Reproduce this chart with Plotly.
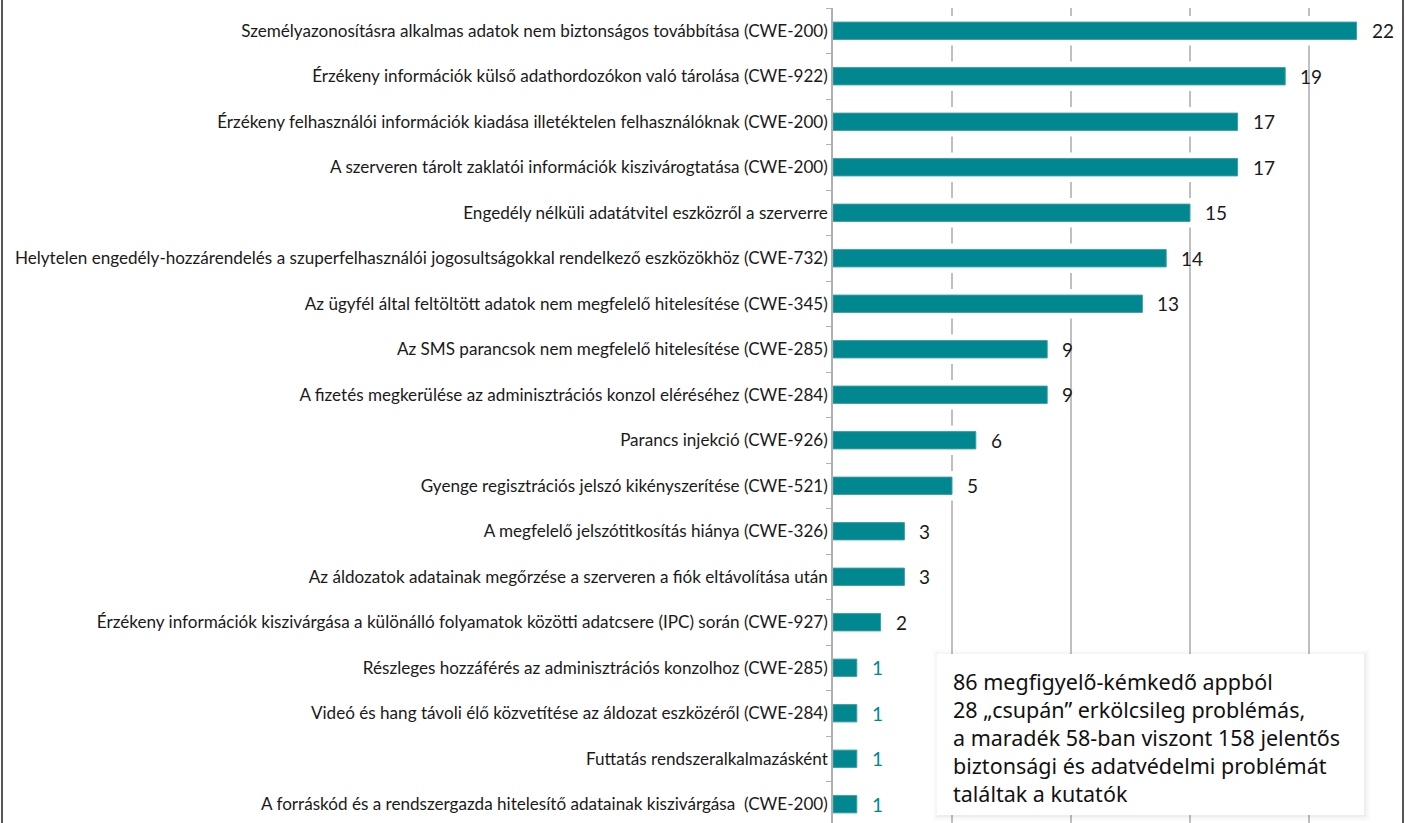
import plotly.graph_objects as go

categories = [
    "Személyazonosításra alkalmas adatok nem biztonságos továbbítása (CWE-200)",
    "Érzékeny információk külső adathordozókon való tárolása (CWE-922)",
    "Érzékeny felhasználói információk kiadása illetéktelen felhasználóknak (CWE-200)",
    "A szerveren tárolt zaklatói információk kiszivárogtatása (CWE-200)",
    "Engedély nélküli adatátvitel eszközről a szerverre",
    "Helytelen engedély-hozzárendelés a szuperfelhasználói jogosultságokkal rendelkező eszközökhöz (CWE-732)",
    "Az ügyfél által feltöltött adatok nem megfelelő hitelesítése (CWE-345)",
    "Az SMS parancsok nem megfelelő hitelesítése (CWE-285)",
    "A fizetés megkerülése az adminisztrációs konzol eléréséhez (CWE-284)",
    "Parancs injekció (CWE-926)",
    "Gyenge regisztrációs jelszó kikényszerítése (CWE-521)",
    "A megfelelő jelszótitkosítás hiánya (CWE-326)",
    "Az áldozatok adatainak megőrzése a szerveren a fiók eltávolítása után",
    "Érzékeny információk kiszivárgása a különálló folyamatok közötti adatcsere (IPC) során (CWE-927)",
    "Részleges hozzáférés az adminisztrációs konzolhoz (CWE-285)",
    "Videó és hang távoli élő közvetítése az áldozat eszközéről (CWE-284)",
    "Futtatás rendszeralkalmazásként",
    "A forráskód és a rendszergazda hitelesítő adatainak kiszivárgása  (CWE-200)",
]
values = [22, 19, 17, 17, 15, 14, 13, 9, 9, 6, 5, 3, 3, 2, 1, 1, 1, 1]
grid_ticks = [5, 10, 15, 20]
note_lines = [
    "86 megfigyelő-kémkedő appból",
    "28 „csupán” erkölcsileg problémás,",
    "a maradék 58-ban viszont 158 jelentős",
    "biztonsági és adatvédelmi problémát",
    "találtak a kutatók",
]

W, H = 1407, 823
ML, MR, MT, MB = 833, 0, 8, 0
PW = W - ML - MR
PH = H - MT - MB
PX_PER_UNIT = 23.8
CAT_PX = 45.5
HALO_PX = 6
BAR_W = 0.38

BAR = "#00878F"
TEXT = "#1a1a1a"

fig = go.Figure()
# white halo behind the bars (hides gridlines next to the bars)
fig.add_trace(go.Bar(
    x=[v + HALO_PX / PX_PER_UNIT for v in values], y=categories, orientation="h",
    width=BAR_W + 2 * HALO_PX / CAT_PX,
    marker=dict(color="white", line=dict(width=0)),
    hoverinfo="skip",
))
fig.add_trace(go.Bar(
    x=values, y=categories, orientation="h",
    width=BAR_W,
    marker=dict(color=BAR, line=dict(color="#3a9ea5", width=1)),
    hoverinfo="x+y",
))

for c, v in zip(categories, values):
    fig.add_annotation(
        x=v, y=c, text=str(v), showarrow=False, xanchor="left", yanchor="middle",
        xshift=13, font=dict(family="Lato, Open Sans, sans-serif", size=19,
                             color=(BAR if v == 1 else TEXT)),
    )

def px_x(px):
    return (px - ML) / PW

def px_y(py):
    return 1 - (py - MT) / PH

# note box shadow + box
bx0, bx1, by0, by1 = 937, 1364, 654, 815
for d, col in [(5, "rgba(0,0,0,0.015)"), (3, "rgba(0,0,0,0.02)"), (1, "rgba(0,0,0,0.03)")]:
    fig.add_shape(type="rect", xref="paper", yref="paper",
                  x0=px_x(bx0 - d + 1), x1=px_x(bx1 + d + 1),
                  y0=px_y(by1 + d + 1), y1=px_y(by0 - d + 1),
                  fillcolor=col, line=dict(width=0), layer="above")
fig.add_shape(type="rect", xref="paper", yref="paper",
              x0=px_x(bx0), x1=px_x(bx1), y0=px_y(by1), y1=px_y(by0),
              fillcolor="white", line=dict(width=0), layer="above")
for i, line in enumerate(note_lines):
    fig.add_annotation(
        xref="paper", yref="paper", x=px_x(951), y=px_y(681 + 28 * i),
        xanchor="left", yanchor="middle", align="left", showarrow=False,
        text=line,
        font=dict(family="Noto Sans, sans-serif", size=21.5, color="#111111"),
    )

# outer frame lines
for xp in (2, 1403):
    fig.add_shape(type="line", xref="paper", yref="paper",
                  x0=px_x(xp), x1=px_x(xp), y0=-0.01, y1=px_y(0),
                  line=dict(color="#555555", width=2), layer="above")

span = PH / CAT_PX
fig.update_layout(
    width=W, height=H,
    margin=dict(l=ML, r=MR, t=MT, b=MB, pad=0, autoexpand=False),
    paper_bgcolor="white", plot_bgcolor="white",
    showlegend=False,
    barmode="overlay",
    xaxis=dict(range=[0, PW / PX_PER_UNIT], tickvals=grid_ticks, showticklabels=False,
               showgrid=True, gridcolor="#bfbfbf", gridwidth=1.5, zeroline=False,
               showline=False, fixedrange=True, automargin=False),
    yaxis=dict(type="category", categoryorder="array", categoryarray=categories,
               range=[-0.5 + span, -0.5], automargin=False,
               showline=True, linecolor="#b0b0b0", linewidth=1.5,
               ticks="outside", tickson="boundaries", ticklen=5, tickcolor="#b0b0b0",
               tickfont=dict(family="Lato, Open Sans, sans-serif", size=17.1, color=TEXT),
               showgrid=False, zeroline=False),
)

fig.write_html(
    "out.html",
    config={"displayModeBar": False},
    post_script="document.body.style.margin='0';document.body.style.overflow='hidden';",
)
